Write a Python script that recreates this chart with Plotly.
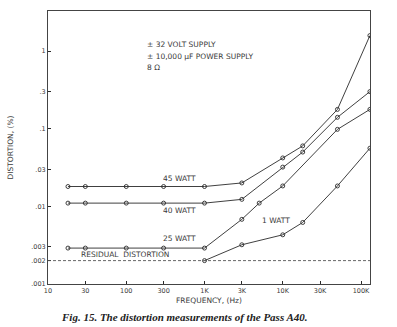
import math
import plotly.graph_objects as go

# Frequency (Hz) and distortion (%) per output level
w45_freq = [18, 30, 100, 300, 1000, 3000, 10000, 18000, 50000, 130000]
w45_dist = [0.018, 0.018, 0.018, 0.018, 0.018, 0.020, 0.042, 0.060, 0.177, 1.58]

w40_freq = [18, 30, 100, 300, 1000, 3000, 10000, 18000, 50000, 130000]
w40_dist = [0.011, 0.011, 0.011, 0.011, 0.011, 0.0123, 0.032, 0.050, 0.14, 0.30]

w25_freq = [18, 30, 100, 300, 1000, 3000, 5000, 10000, 50000, 130000]
w25_dist = [0.0029, 0.0029, 0.0029, 0.0029, 0.0029, 0.0068, 0.011, 0.0183, 0.098, 0.177]

w1_freq = [1000, 3000, 10000, 18000, 50000, 130000]
w1_dist = [0.002, 0.0032, 0.0043, 0.0062, 0.0183, 0.056]

residual_dist = 0.002

x_tickvals = [10, 30, 100, 300, 1000, 3000, 10000, 30000, 100000]
x_ticktext = ["10", "30", "100", "300", "1K", "3K", "10K", "30K", "100K"]
y_tickvals = [0.001, 0.002, 0.003, 0.01, 0.03, 0.1, 0.3, 1]
y_ticktext = [".001", ".002", ".003", ".01", ".03", ".1", ".3", "1"]

INK = "#2a2a2a"
TXT = "#3a3a3a"
FONT = "DejaVu Sans"

fig = go.Figure()

for fx, dy in [(w45_freq, w45_dist), (w40_freq, w40_dist),
               (w25_freq, w25_dist), (w1_freq, w1_dist)]:
    fig.add_trace(go.Scatter(
        x=fx, y=dy, mode="lines+markers",
        line=dict(color=INK, width=0.9),
        marker=dict(symbol="circle-open", size=4, color=INK,
                    line=dict(width=0.9, color=INK)),
        showlegend=False, hoverinfo="skip"))

fig.add_hline(y=residual_dist, line=dict(color="#555", width=0.9, dash="3px,2px"))

L = math.log10
notes = [
    ("± 32 VOLT SUPPLY", L(175), L(1.23), "left"),
    ("± 10,000 μF POWER SUPPLY", L(175), L(0.86), "left"),
    ("8 Ω", L(175), L(0.62), "left"),
    ("45 WATT", L(486), L(0.0225), "center"),
    ("40 WATT", L(486), L(0.0089), "center"),
    ("25 WATT", L(486), L(0.0038), "center"),
    ("RESIDUAL  DISTORTION", L(25), L(0.00237), "left"),
    ("1 WATT", L(8200), L(0.0065), "center"),
]
for txt, ax, ay, al in notes:
    fig.add_annotation(x=ax, y=ay, xref="x", yref="y", text=txt,
                       showarrow=False, xanchor=al, yanchor="middle",
                       font=dict(family=FONT, size=7.5, color=TXT))

fig.add_annotation(x=0.5, y=0, xref="paper", yref="paper", yshift=-10,
                   text="FREQUENCY, (Hz)", showarrow=False, yanchor="top",
                   font=dict(family=FONT, size=7.5, color=TXT))
fig.add_annotation(x=0, y=0.5, xref="paper", yref="paper", xshift=-38,
                   text="DISTORTION, (%)", showarrow=False, textangle=-90,
                   xanchor="center", font=dict(family=FONT, size=7.5, color=TXT))
fig.add_annotation(x=0.425, y=0, xref="paper", yref="paper", yshift=-25,
                   text="<i><b>Fig. 15. The distortion measurements of the Pass A40.</b></i>",
                   showarrow=False, yanchor="top",
                   font=dict(family="Liberation Serif", size=11, color="#222"))

fig.update_xaxes(type="log", range=[1, 5.115], tickvals=x_tickvals,
                 ticktext=x_ticktext, ticks="inside", ticklen=3,
                 tickcolor=INK, showgrid=False, zeroline=False,
                 showline=True, linecolor="#444", linewidth=1, mirror=True,
                 tickfont=dict(family=FONT, size=6.5, color=TXT))
fig.update_yaxes(type="log", range=[-3, 0.515], tickvals=y_tickvals,
                 ticktext=y_ticktext, ticks="inside", ticklen=3,
                 tickcolor=INK, showgrid=False, zeroline=False,
                 showline=True, linecolor="#444", linewidth=1, mirror=True,
                 tickfont=dict(family=FONT, size=6.5, color=TXT))

fig.update_layout(width=397, height=327,
                  margin=dict(l=48, r=27, t=11, b=43, autoexpand=False),
                  paper_bgcolor="white", plot_bgcolor="white")

fig.write_html("out.html")
